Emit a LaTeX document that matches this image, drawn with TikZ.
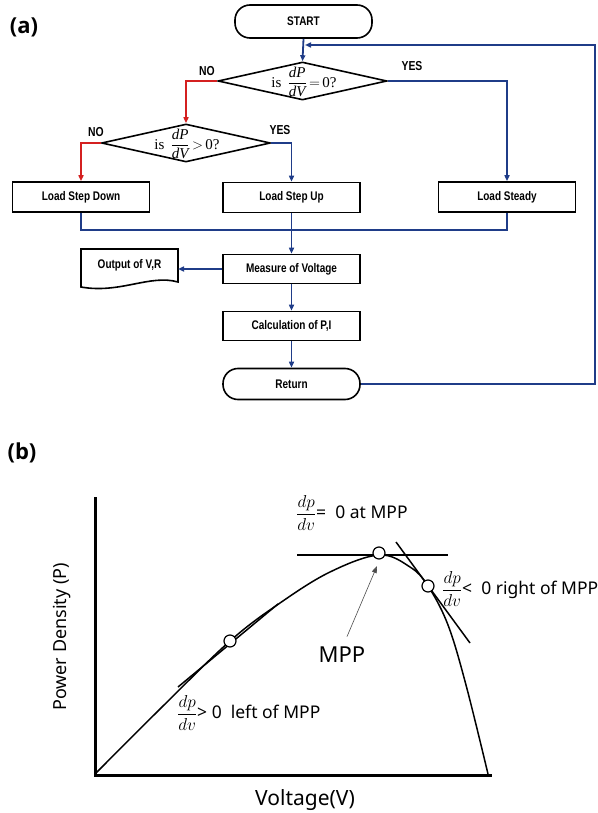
\documentclass[tikz,border=0pt]{standalone}
\usepackage{fontspec}
\setmainfont{Noto Sans}
\newfontfamily\fcfont[FakeStretch=0.8]{Liberation Sans}
\newfontfamily\serf{Liberation Serif}
\newfontfamily\pfont{Open Sans}
\usetikzlibrary{shapes.geometric,arrows.meta}
\definecolor{navy}{HTML}{1F3C88}
\definecolor{redl}{HTML}{D42020}
\newcommand{\dfr}[2]{\ensuremath{\displaystyle\frac{\textit{#1}}{\textit{#2}}}}
\begin{document}
\begin{tikzpicture}[x=1pt,y=-1pt,
 box/.style={draw=black, line width=1.6pt, minimum width=137pt, minimum height=30pt, font=\fcfont\bfseries\fontsize{12.5}{14}\selectfont, inner sep=0pt},
 term/.style={box, rounded corners=15pt},
 dia/.style={diamond, draw=black, line width=1.6pt, inner sep=0pt, minimum width=169pt, minimum height=38pt},
 diatext/.style={font=\serf\fontsize{15}{17}\selectfont, inner sep=0pt},
 yn/.style={font=\fcfont\bfseries\fontsize{13}{15}\selectfont},
 bl/.style={draw=navy, line width=1.8pt},
 rd/.style={draw=redl, line width=1.8pt},
 tip/.style={-{Triangle[length=6pt,width=5pt]}},
 lbl/.style={font=\fontsize{17.5}{20}\selectfont, anchor=west, inner sep=0pt},
 panel/.style={font=\pfont\bfseries\fontsize{22}{26}\selectfont},
 dot/.style={circle, draw=black, fill=white, line width=1.2pt, minimum size=12pt, inner sep=0pt},
]
\useasboundingbox (0,0) rectangle (597,813);

% ---------- (a) ----------
\node[panel] (pa) at (24,27) {(a)};
\node[term, minimum height=33pt] (start) at (303.5,21.5) {START};
\node[dia] (d1) at (302.5,81) {};
\node[diatext] (d1t) at (304,82) {is\, \dfr{dP}{dV}$\,{=}\,$0?};
\node[dia] (d2) at (186,143) {};
\node[diatext] (d2t) at (187,144) {is\, \dfr{dP}{dV}$\,{>}\,$0?};
\node[box] (down) at (81,197) {Load Step Down};
\node[box] (up) at (291.5,197.5) {Load Step Up};
\node[box] (steady) at (507,197) {Load Steady};
\node[box, minimum height=29pt] (meas) at (291.5,269) {Measure of Voltage};
\node[box, minimum height=29pt] (calc) at (291.5,326) {Calculation of P,I};
\node[term, minimum height=31pt] (ret) at (291.5,384) {Return};
\draw[line width=1.6pt] (81,249) -- (178,249) -- (178,282) .. controls (150,274) and (120,294) .. (81,287) -- cycle;
\node[font=\fcfont\bfseries\fontsize{12.5}{14}\selectfont] (outp) at (129.5,265) {Output of V,R};
\coordinate (outr) at (178,269);
\coordinate (lp) at (305,45);
\coordinate (redge) at (595,384);

\node[yn] (no1) at (207,71) {NO};
\node[yn] (no2) at (96,132) {NO};
\node[yn] (yes2) at (280,130) {YES};
\node[yn] (yes1) at (412,66) {YES};

\draw[bl,tip] (start.south) -- (d1.north);
\draw[rd,tip] (d1.west) -| (d2.north);
\draw[bl,tip] (d1.east) -| (steady.north);
\draw[rd,tip] (d2.west) -| (down.north);
\draw[bl,tip] (d2.east) -| (up.north);
\draw[bl] (down.south) -- ++(0,17) -| (steady.south);
\draw[bl,tip] (up.south) -- (meas.north);
\draw[bl,tip] (meas.west) -- (outr);
\draw[bl,tip] (meas.south) -- (calc.north);
\draw[bl,tip] (calc.south) -- (ret.north);
\draw[bl,tip] (ret.east) -- (redge) |- (lp);

% ---------- (b) ----------
\node[panel] (pb) at (22,453) {(b)};
\draw[line width=3pt] (95,497) -- (95,775) -- (492,775);
\draw[line width=1.5pt] plot[smooth, tension=0.6] coordinates {(95,774) (160,709) (230,641) (280,603) (330,572) (379,555) (410,567) (428,586) (448,625) (466,685) (488,774)};
\draw[line width=1.5pt] (178,687) -- (278,604);
\draw[line width=1.5pt] (297,555) -- (448,555);
\draw[line width=1.5pt] (396,542) -- (470,643);
\node[dot] (c1) at (230,641) {};
\node[dot] (c2) at (379,553) {};
\node[dot] (c3) at (428,586) {};

\node[lbl] (l1) at (177,713) {\fontsize{17}{20}\selectfont$\displaystyle\frac{dp}{dv}$\fontsize{17.5}{20}\selectfont> 0~~left of MPP};
\node[lbl] (l2) at (296,513) {\fontsize{17}{20}\selectfont$\displaystyle\frac{dp}{dv}$\fontsize{17.5}{20}\selectfont= ~0 at MPP};
\node[lbl] (l3) at (442,589) {\fontsize{17}{20}\selectfont$\displaystyle\frac{dp}{dv}$\fontsize{17.5}{20}\selectfont< ~0 right of MPP};
\node[font=\fontsize{22}{26}\selectfont] (mpp) at (342,655) {MPP};
\coordinate (ah) at (377,566);
\draw[-{Triangle[length=7pt,width=5pt]}, black!70, line width=0.6pt] ([shift={(5,-7)}]mpp.north) -- (ah);
\node[font=\fontsize{18}{22}\selectfont, rotate=90] (ylab) at (62,637) {Power Density (P)};
\node[font=\fontsize{21}{24}\selectfont] (xlab) at (305,800) {Voltage(V)};
\end{tikzpicture}
\end{document}
